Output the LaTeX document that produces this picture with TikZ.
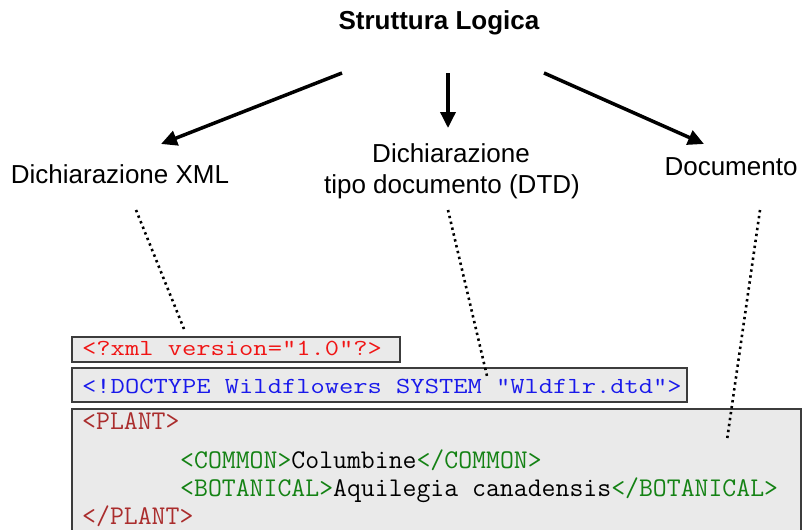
\documentclass[tikz,border=0pt]{standalone}
\usepackage{fontspec}
\setmainfont{Liberation Sans}
\usetikzlibrary{arrows.meta}

\definecolor{xmlred}{RGB}{240,20,20}
\definecolor{dtdblue}{RGB}{25,25,235}
\definecolor{tagred}{RGB}{170,45,45}
\definecolor{taggreen}{RGB}{20,130,20}
\definecolor{boxfill}{RGB}{234,234,234}
\definecolor{boxline}{RGB}{60,60,60}

\tikzset{
  lbl/.style={font=\fontsize{26}{31}\selectfont, inner sep=0pt, anchor=base},
  ttl/.style={font=\bfseries\fontsize{26}{31}\selectfont, inner sep=0pt, anchor=base},
  branch/.style={line width=3.5pt, -{Triangle[length=16pt,width=15pt]}},
  link/.style={line width=2.6pt, dash pattern=on 2.4pt off 3.6pt, black},
  codebox/.style={fill=boxfill, draw=boxline, line width=1.3pt},
  codeline/.style={inner sep=0pt, anchor=base west}
}
% wide typewriter lines of the prolog, narrow typewriter lines of the body
\newcommand{\prologcode}[1]{\scalebox{1.205}[1]{\ttfamily\fontsize{23}{28}\selectfont #1}}
\newcommand{\plantcode}[1]{{\ttfamily\fontsize{27}{30}\selectfont #1}}

\begin{document}
\begin{tikzpicture}[x=1pt, y=-1pt]
  \useasboundingbox (0,0) rectangle (804,530);
  \clip (0,0) rectangle (804,530);

  % headings
  \node[ttl] (title) at (439,30) {Struttura Logica};
  \node[lbl] (xmldecl) at (120,183) {Dichiarazione XML};
  \node[lbl] (dtd1) at (451,162) {Dichiarazione};
  \node[lbl] (dtd2) at (452,193) {tipo documento (DTD)};
  \node[lbl] (doc) at (731,175) {Documento};

  % arrow end points
  \coordinate (sL) at (342,73);
  \coordinate (tL) at (161,144);
  \coordinate (sM) at (448,73);
  \coordinate (tM) at (448,128);
  \coordinate (sR) at (544,73);
  \coordinate (tR) at (704,144);
  \draw[branch] (sL) -- (tL);
  \draw[branch] (sM) -- (tM);
  \draw[branch] (sR) -- (tR);

  % code boxes
  \path[codebox] (72,337) rectangle (400,362);
  \path[codebox] (72,368) rectangle (687,402);
  \path[codebox] (72,409) rectangle (801,545);

  \node[codeline, text=xmlred] (xmlline) at (82,355) {\prologcode{<?xml version="1.0"?>}};
  \node[codeline, text=dtdblue] (dtdline) at (82,393) {\prologcode{<!DOCTYPE Wildflowers SYSTEM "Wldflr.dtd">}};

  \node[codeline] (plantopen) at (82,429) {\plantcode{\textcolor{tagred}{<PLANT>}}};
  \node[codeline] (common) at (180,468) {\plantcode{\textcolor{taggreen}{<COMMON>}Columbine\textcolor{taggreen}{</COMMON>}}};
  \node[codeline] (botanical) at (180,496) {\plantcode{\textcolor{taggreen}{<BOTANICAL>}Aquilegia canadensis\textcolor{taggreen}{</BOTANICAL>}}};
  \node[codeline] (plantclose) at (82,524) {\plantcode{\textcolor{tagred}{</PLANT>}}};

  % dotted pointers from the labels into the code
  \coordinate (dL1) at (136,210);
  \coordinate (dL2) at (184,329);
  \coordinate (dM1) at (448,210);
  \coordinate (dM2) at (487,376);
  \coordinate (dR1) at (760,210);
  \coordinate (dR2) at (727,440);
  \draw[link] (dL1) -- (dL2);
  \draw[link] (dM1) -- (dM2);
  \draw[link] (dR1) -- (dR2);
\end{tikzpicture}
\end{document}
